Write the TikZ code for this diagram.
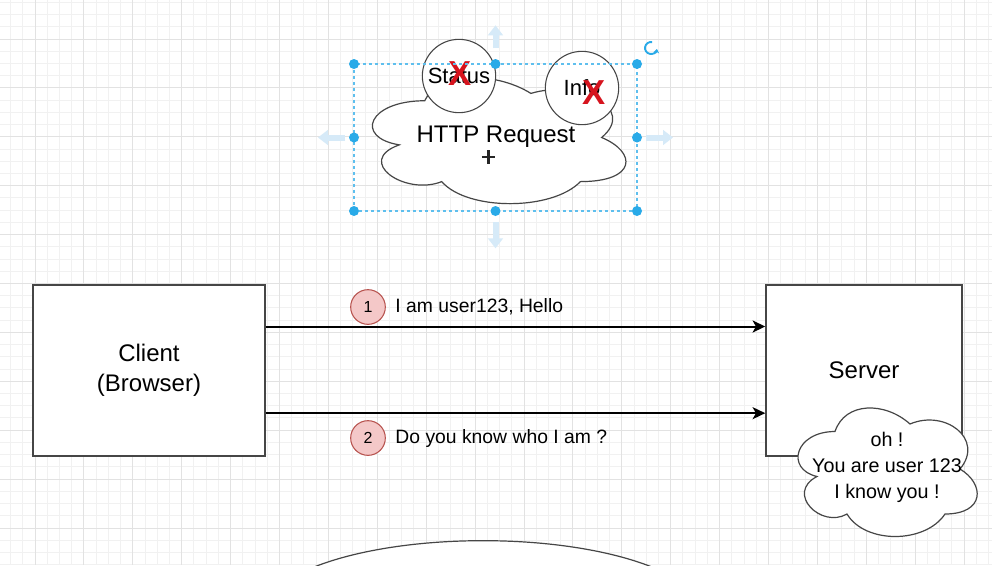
\documentclass[tikz,border=0pt]{standalone}
\usepackage{fontspec}
\setmainfont{Liberation Sans}
\usetikzlibrary{arrows.meta,positioning,calc,shapes.geometric}
\definecolor{gridfaint}{RGB}{241,241,241}
\definecolor{gridline}{RGB}{226,226,226}
\definecolor{edgegray}{RGB}{70,70,70}
\definecolor{badgepink}{RGB}{244,200,200}
\definecolor{badgeedge}{RGB}{184,84,80}
\definecolor{handleblue}{RGB}{41,170,232}
\definecolor{hoverblue}{RGB}{214,234,248}
\definecolor{crossred}{RGB}{214,20,30}

\newcommand\cloudoutline[1]{%
  \path[cloudline] let \p1=(#1.south west), \p2=(#1.north east),
    \n1={\x2-\x1}, \n2={\y2-\y1} in
    ({\x1+0.25*\n1},{\y2-0.25*\n2})
    .. controls ({\x1+0.05*\n1},{\y2-0.25*\n2}) and (\x1,{\y2-0.5*\n2}) .. ({\x1+0.16*\n1},{\y2-0.55*\n2})
    .. controls (\x1,{\y2-0.66*\n2}) and ({\x1+0.18*\n1},{\y2-0.9*\n2}) .. ({\x1+0.31*\n1},{\y2-0.8*\n2})
    .. controls ({\x1+0.4*\n1},\y1) and ({\x1+0.7*\n1},\y1) .. ({\x1+0.8*\n1},{\y2-0.8*\n2})
    .. controls (\x2,{\y2-0.8*\n2}) and (\x2,{\y2-0.6*\n2}) .. ({\x1+0.875*\n1},{\y2-0.5*\n2})
    .. controls (\x2,{\y2-0.3*\n2}) and ({\x1+0.8*\n1},{\y2-0.1*\n2}) .. ({\x1+0.625*\n1},{\y2-0.2*\n2})
    .. controls ({\x1+0.5*\n1},{\y2-0.05*\n2}) and ({\x1+0.3*\n1},{\y2-0.05*\n2}) .. ({\x1+0.25*\n1},{\y2-0.25*\n2})
    -- cycle;}

\begin{document}
\begin{tikzpicture}[x=0.75pt,y=-0.75pt,
    gridminor/.style={draw=gridfaint, line width=0.75pt},
    gridmajor/.style={draw=gridline, line width=0.75pt},
    box/.style={draw=edgegray, line width=1.1pt, fill=white, minimum height=128pt,
      align=center, font=\fontsize{18}{22.5}\selectfont},
    msg/.style={draw=black, line width=1.5pt, -{Stealth[length=9.5pt,width=9pt,inset=2.5pt]}},
    badge/.style={circle, draw=badgeedge, fill=badgepink, line width=0.8pt, minimum size=26pt,
      inner sep=0pt, font=\fontsize{12}{14}\selectfont},
    msgtext/.style={inner sep=0pt, font=\fontsize{14.5}{17}\selectfont},
    frame/.style={inner sep=0pt, outer sep=0pt},
    cloudline/.style={draw=edgegray, fill=white, line width=0.9pt},
    part/.style={circle, draw=edgegray, fill=white, line width=0.8pt, minimum size=55pt,
      inner sep=0pt, font=\fontsize{16.5}{18}\selectfont},
    cross/.style={text=crossred, inner sep=0pt, font=\fontsize{26}{26}\selectfont\bfseries},
    selectline/.style={draw=handleblue!75, line width=0.8pt, dash pattern=on 2.25pt off 2.25pt},
    handle/.style={circle, fill=handleblue, minimum size=7.5pt, inner sep=0pt},
    hover/.style={draw=hoverblue, line width=4.5pt, -{Triangle[length=7.5pt,width=11pt]}},
  ]
  \useasboundingbox (0,0) rectangle (992,565);
  \clip (0,0) rectangle (992,565);
  \fill[white] (0,0) rectangle (992,565);
  \foreach \i in {-2,...,78} \draw[gridminor] ({35+12.225*\i},0) -- ++(0,565);
  \foreach \i in {-3,...,43} \draw[gridminor] (0,{39+12.225*\i}) -- ++(992,0);
  \foreach \i in {-1,...,19} \draw[gridmajor] ({35+48.9*\i},0) -- ++(0,565);
  \foreach \i in {-1,...,11} \draw[gridmajor] (0,{39+48.9*\i}) -- ++(992,0);

  \node[box, minimum width=174pt] (client) at (149,370.5) {Client\\(Browser)};
  \node[box, minimum width=147pt] (server) at (864,370.5) {Server};

  \draw[msg] ([yshift=33pt]client.east) -- ([yshift=33pt]server.west);
  \draw[msg] ([yshift=-32pt]client.east) -- ([yshift=-32pt]server.west);

  \node[badge] (first) at (368,307) {1};
  \node[msgtext, right=7pt of first] (firsttext) {I am user123, Hello};
  \node[badge] (second) at (368,438) {2};
  \node[msgtext, right=7pt of second] (secondtext) {Do you know who I am ?};

  \node[frame, minimum width=150pt, minimum height=112.5pt] (reply) at (885,469) {};
  \cloudoutline{reply}
  \node[align=center, font=\fontsize{14.8}{19.5}\selectfont] (replytext) at (887,467)
    {oh !\\You are user 123\\I know you !};

  \node[ellipse, draw=edgegray, fill=white, line width=0.9pt, minimum width=330pt,
    minimum height=110pt] (next) at (483,614) {};

  \node[frame, minimum width=212.25pt, minimum height=110.25pt] (request) at (495.5,137.5) {};
  \cloudoutline{request}
  \node[font=\fontsize{18}{20}\selectfont] (requesttext) at (496,137) {HTTP Request};
  \node[part] (status) at (459,76) {Status};
  \node[cross] (statusx) at ([xshift=0.75pt,yshift=1.5pt]status.center) {X};
  \node[part] (info) at (582,88) {Info};
  \node[cross] (infox) at ([xshift=9pt,yshift=-3.75pt]info.center) {X};

  \draw[selectline] (request.south west) rectangle (request.north east);
  \foreach \a in {north west,north,north east,west,east,south west,south,south east}
    \node[handle] at (request.\a) {};
  \draw[hover] ([yshift=12pt]request.north) -- ([yshift=29pt]request.north);
  \draw[hover] ([yshift=-8pt]request.south) -- ([yshift=-28pt]request.south);
  \draw[hover] ([xshift=-6.75pt]request.west) -- ([xshift=-27pt]request.west);
  \draw[hover] ([xshift=6.75pt]request.east) -- ([xshift=27pt]request.east);
  \coordinate (turn) at ([xshift=10.5pt,yshift=12pt]request.north east);
  \draw[handleblue, line width=1.4pt, -{Stealth[length=3pt,width=4.5pt]}]
    (turn) ++(80:4.5pt) arc[start angle=80, end angle=350, radius=4.5pt];

  \coordinate (cursor) at (488.5,157);
  \draw[black!85, line width=1.6pt] ([yshift=5pt]cursor) -- ([yshift=-5pt]cursor)
    ([xshift=-5pt]cursor) -- ([xshift=5pt]cursor);
\end{tikzpicture}
\end{document}
